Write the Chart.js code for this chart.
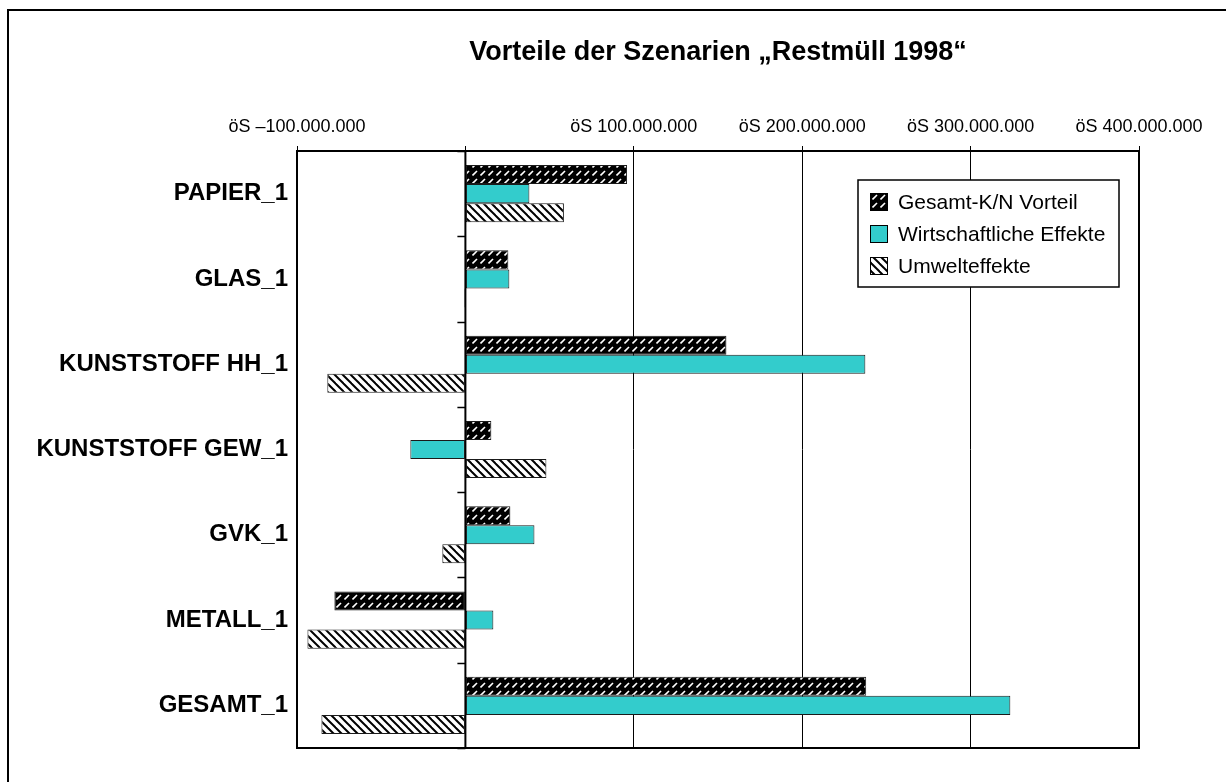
<!DOCTYPE html>
<html>
<head>
<meta charset="utf-8">
<script src="https://cdn.jsdelivr.net/npm/chart.js@4.4.0/dist/chart.umd.min.js"></script>
<style>
  html, body { margin: 0; padding: 0; background: #fff; }
  #wrap { position: relative; width: 1226px; height: 782px; }
</style>
</head>
<body>
<div id="wrap"><canvas id="chart"></canvas></div>
<script>
// --- Daten -------------------------------------------------------------------
const categories  = ['PAPIER_1', 'GLAS_1', 'KUNSTSTOFF HH_1', 'KUNSTSTOFF GEW_1', 'GVK_1', 'METALL_1', 'GESAMT_1'];
const seriesNames = ['Gesamt-K/N Vorteil', 'Wirtschaftliche Effekte', 'Umwelteffekte'];
const gesamtKN    = [96e6, 25.5e6, 155e6, 15.4e6, 26.7e6, -77.8e6, 238e6];
const wirtschaft  = [38e6, 26.1e6, 237.5e6, -32.7e6, 41e6, 16.6e6, 323.6e6];
const umwelt      = [58.5e6, -0.6e6, -82e6, 48.1e6, -13.7e6, -93.8e6, -85.5e6];
const tickValues  = [-100e6, 0, 100e6, 200e6, 300e6, 400e6];
const tickLabels  = ['öS –100.000.000', '', 'öS 100.000.000', 'öS 200.000.000', 'öS 300.000.000', 'öS 400.000.000'];
const chartTitle  = 'Vorteile der Szenarien „Restmüll 1998“';

const SANS = '"Liberation Sans", Arial, sans-serif';

// --- Schraffuren -------------------------------------------------------------
function makePattern(draw) {
  const c = document.createElement('canvas');
  c.width = c.height = 8;
  draw(c.getContext('2d'));
  return c.getContext('2d').createPattern(c, 'repeat');
}
const patGesamt = makePattern(g => {
  g.fillStyle = '#000'; g.fillRect(0, 0, 8, 8);
  g.strokeStyle = '#fff'; g.lineWidth = 1.6;
  g.beginPath(); g.moveTo(0.5, 7.5); g.lineTo(5, 3); g.stroke();
});
const patUmwelt = makePattern(g => {
  g.fillStyle = '#fff'; g.fillRect(0, 0, 8, 8);
  g.strokeStyle = '#000'; g.lineWidth = 2;
  for (const o of [-8, 0, 8]) { g.beginPath(); g.moveTo(o - 1, -1); g.lineTo(o + 9, 9); g.stroke(); }
});
const TEAL = '#33cccc';

// --- Plugins -----------------------------------------------------------------
const frame = {
  id: 'frame',
  beforeDraw(chart) {
    const { ctx, width, height } = chart;
    ctx.save();
    ctx.fillStyle = '#fff'; ctx.fillRect(0, 0, width, height);
    ctx.strokeStyle = '#000'; ctx.lineWidth = 2;
    ctx.beginPath(); ctx.moveTo(8, height); ctx.lineTo(8, 10); ctx.lineTo(width, 10); ctx.stroke();
    ctx.restore();
  }
};

const axisAndBox = {
  id: 'axisAndBox',
  afterDatasetsDraw(chart) {
    const { ctx, chartArea: a, scales: { x, y } } = chart;
    const x0 = x.getPixelForValue(0);
    ctx.save();
    ctx.strokeStyle = '#000';
    // Kategorieachse bei 0 mit Teilstrichen
    ctx.lineWidth = 2;
    ctx.beginPath(); ctx.moveTo(x0, a.top); ctx.lineTo(x0, a.bottom); ctx.stroke();
    ctx.lineWidth = 1.5;
    for (let i = 0; i <= categories.length; i++) {
      const py = Math.round(y.getPixelForValue(i - 0.5)) + 0.5;
      ctx.beginPath(); ctx.moveTo(x0 - 8, py); ctx.lineTo(x0, py); ctx.stroke();
    }
    // Rahmen der Zeichenfläche
    ctx.lineWidth = 2;
    ctx.strokeRect(a.left, a.top, a.right - a.left, a.bottom - a.top);

    // Legende
    const w = 261, h = 107, lx = a.right - 20 - w, ly = a.top + 29;
    ctx.fillStyle = '#fff'; ctx.fillRect(lx, ly, w, h);
    ctx.lineWidth = 1.5; ctx.strokeRect(lx, ly, w, h);
    ctx.font = '21px ' + SANS; ctx.textBaseline = 'middle'; ctx.textAlign = 'left';
    chart.data.datasets.forEach((ds, i) => {
      const cy = ly + 22 + i * 32;
      ctx.fillStyle = ds.backgroundColor;
      ctx.fillRect(lx + 12, cy - 9, 18, 18);
      ctx.lineWidth = 1; ctx.strokeStyle = '#000';
      ctx.strokeRect(lx + 12.5, cy - 8.5, 17, 17);
      ctx.fillStyle = '#000';
      ctx.fillText(ds.label, lx + 40, cy + 1);
    });
    ctx.restore();
  }
};

// --- Chart -------------------------------------------------------------------
const TITLE_PAD = 39, TITLE_LH = 27;

new Chart(document.getElementById('chart'), {
  type: 'bar',
  data: {
    labels: categories,
    datasets: [
      { label: seriesNames[0], data: gesamtKN,   backgroundColor: patGesamt },
      { label: seriesNames[1], data: wirtschaft, backgroundColor: TEAL },
      { label: seriesNames[2], data: umwelt,     backgroundColor: patUmwelt },
    ],
  },
  options: {
    indexAxis: 'y',
    responsive: true,
    maintainAspectRatio: false,
    animation: false,
    layout: { padding: { left: 0, top: 0, right: 87, bottom: 34 } },
    datasets: {
      bar: { borderColor: '#1a1a1a', borderWidth: 1, borderSkipped: false, categoryPercentage: 0.67, barPercentage: 1 },
    },
    plugins: {
      legend: { display: false },
      tooltip: { enabled: false },
      title: {
        display: true, text: chartTitle, fullSize: false, color: '#000',
        font: { family: SANS, size: 27, weight: 'bold', lineHeight: 1 },
        padding: { top: TITLE_PAD, bottom: 0 },
      },
    },
    scales: {
      x: {
        position: 'top',
        min: -100e6, max: 400e6,
        afterBuildTicks: s => { s.ticks = tickValues.map(v => ({ value: v })); },
        afterFit: s => { s.height = 151 - TITLE_PAD - TITLE_LH; },
        ticks: {
          color: '#000', padding: 8, maxRotation: 0, autoSkip: false,
          font: { family: SANS, size: 18 },
          callback: (v, i) => tickLabels[i],
        },
        grid: { color: '#000', lineWidth: 1, tickLength: 5, drawTicks: true },
        border: { display: false },
      },
      y: {
        afterFit: s => { s.width = 297; },
        ticks: { color: '#000', padding: 9, font: { family: SANS, size: 24, weight: 'bold' } },
        grid: { display: false, drawTicks: false },
        border: { display: false },
      },
    },
  },
  plugins: [frame, axisAndBox],
});
</script>
</body>
</html>
